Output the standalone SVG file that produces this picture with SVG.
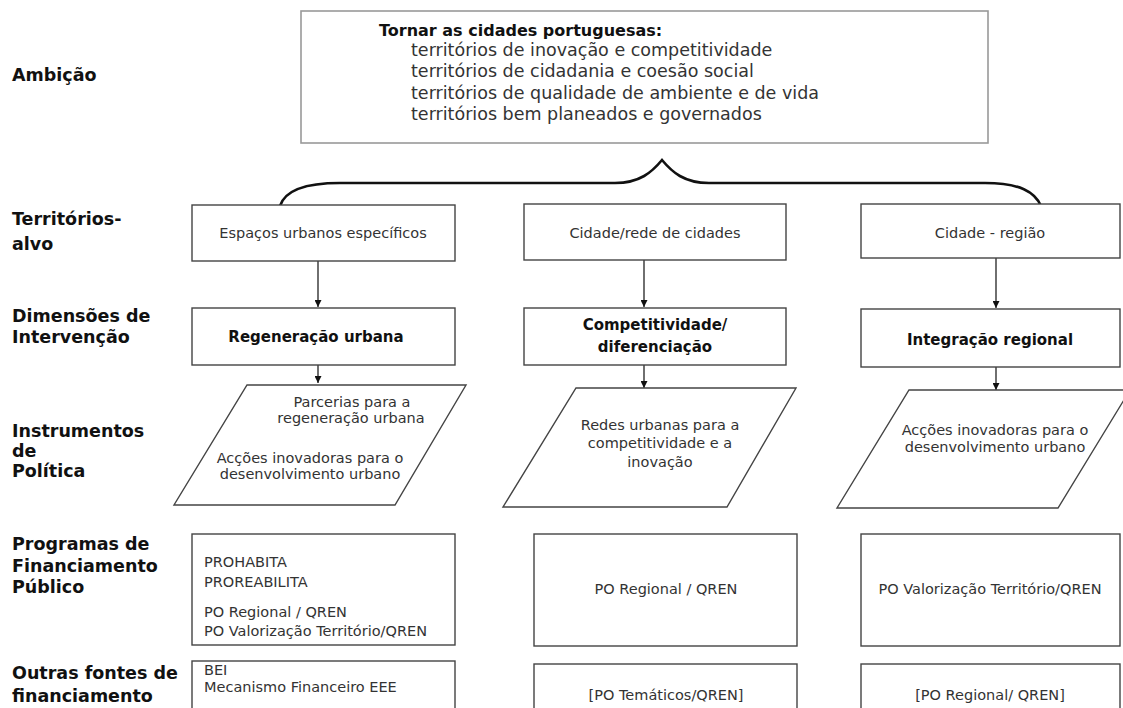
<svg xmlns="http://www.w3.org/2000/svg" width="1123" height="708" viewBox="0 0 1123 708">
<defs>
<style>
.lbl{font-family:"DejaVu Sans","Liberation Sans",sans-serif;font-weight:bold;font-size:17.5px;fill:#111}
.t{font-family:"DejaVu Sans","Liberation Sans",sans-serif;font-size:14.5px;fill:#333}
.tb{font-family:"DejaVu Sans","Liberation Sans",sans-serif;font-size:15px;font-weight:bold;fill:#111}
.amb{font-family:"DejaVu Sans","Liberation Sans",sans-serif;font-size:17.5px;fill:#333}
.box{fill:#fff;stroke:#444;stroke-width:1.4}
.top{fill:#fff;stroke:#999;stroke-width:1.6}
.arr{stroke:#222;stroke-width:1.3;fill:none;marker-end:url(#ah)}
.c{text-anchor:middle}
</style>
<marker id="ah" viewBox="0 0 10 10" refX="10" refY="5" markerWidth="7" markerHeight="7" markerUnits="userSpaceOnUse" orient="auto">
<path d="M0,0 L10,5 L0,10 z" fill="#111"/>
</marker>
</defs>
<rect width="1123" height="708" fill="#fff"/>

<g id="labels">
<text class="lbl" x="12" y="81">Ambição</text>
<text class="lbl" x="12" y="225">Territórios-</text>
<text class="lbl" x="12" y="250">alvo</text>
<text class="lbl" x="12" y="322">Dimensões de</text>
<text class="lbl" x="12" y="343">Intervenção</text>
<text class="lbl" x="12" y="437">Instrumentos</text>
<text class="lbl" x="12" y="457">de</text>
<text class="lbl" x="12" y="477">Política</text>
<text class="lbl" x="12" y="550">Programas de</text>
<text class="lbl" x="12" y="572">Financiamento</text>
<text class="lbl" x="12" y="593">Público</text>
<text class="lbl" x="12" y="679">Outras fontes de</text>
<text class="lbl" x="12" y="702">financiamento</text>
</g>

<g id="ambicao">
<rect class="top" x="301" y="11" width="687" height="132"/>
<text class="tb" style="font-size:16px" x="379" y="36">Tornar as cidades portuguesas:</text>
<text class="amb" x="411" y="56">territórios de inovação e competitividade</text>
<text class="amb" x="411" y="77">territórios de cidadania e coesão social</text>
<text class="amb" x="411" y="99">territórios de qualidade de ambiente e de vida</text>
<text class="amb" x="411" y="120">territórios bem planeados e governados</text>
</g>

<g id="connectors">
<path d="M280,206 C285,190 305,183 340,183 L615,183 C640,183 652,172 662,160 C672,172 684,183 709,183 L985,183 C1020,183 1035,192 1041,206" fill="none" stroke="#111" stroke-width="2.6"/>
<line class="arr" x1="318" y1="261" x2="318" y2="307"/>
<line class="arr" x1="644" y1="260" x2="644" y2="307"/>
<line class="arr" x1="996" y1="258" x2="996" y2="308"/>
<line class="arr" x1="318" y1="365" x2="318" y2="383"/>
<line class="arr" x1="644" y1="365" x2="644" y2="388"/>
<line class="arr" x1="996" y1="367" x2="996" y2="390"/>
</g>

<g id="t1">
<rect class="box" x="192" y="205" width="263" height="56"/>
<text class="t c" x="323" y="238">Espaços urbanos específicos</text>
</g>
<g id="t2">
<rect class="box" x="524" y="204" width="262" height="56"/>
<text class="t c" x="655" y="238">Cidade/rede de cidades</text>
</g>
<g id="t3">
<rect class="box" x="861" y="204" width="259" height="54"/>
<text class="t c" x="990" y="238">Cidade - região</text>
</g>

<g id="d1">
<rect class="box" x="192" y="308" width="263" height="57"/>
<text class="tb c" x="316" y="342">Regeneração urbana</text>
</g>
<g id="d2">
<rect class="box" x="524" y="308" width="262" height="57"/>
<text class="tb c" x="655" y="330">Competitividade/</text>
<text class="tb c" x="655" y="352">diferenciação</text>
</g>
<g id="d3">
<rect class="box" x="861" y="309" width="259" height="58"/>
<text class="tb c" x="990" y="345">Integração regional</text>
</g>

<g id="i1">
<polygon class="box" points="247,385 466,385 395,505 174,505"/>
<text class="t c" x="352" y="407">Parcerias para a</text>
<text class="t c" x="351" y="423">regeneração urbana</text>
<text class="t c" x="310" y="463">Acções inovadoras para o</text>
<text class="t c" x="310" y="479">desenvolvimento urbano</text>
</g>
<g id="i2">
<polygon class="box" points="576,388 796,388 727,507 503,507"/>
<text class="t c" x="660" y="430">Redes urbanas para a</text>
<text class="t c" x="660" y="448">competitividade e a</text>
<text class="t c" x="660" y="467">inovação</text>
</g>
<g id="i3">
<polygon class="box" points="909,390 1130,390 1058,508 837,508"/>
<text class="t c" x="995" y="435">Acções inovadoras para o</text>
<text class="t c" x="995" y="452">desenvolvimento urbano</text>
</g>

<g id="p1">
<rect class="box" x="192" y="534" width="263" height="111"/>
<text class="t" x="204" y="567">PROHABITA</text>
<text class="t" x="204" y="587">PROREABILITA</text>
<text class="t" x="204" y="617">PO Regional / QREN</text>
<text class="t" x="204" y="636">PO Valorização Território/QREN</text>
</g>
<g id="p2">
<rect class="box" x="534" y="534" width="263" height="112"/>
<text class="t c" x="666" y="594">PO Regional / QREN</text>
</g>
<g id="p3">
<rect class="box" x="861" y="534" width="259" height="112"/>
<text class="t c" x="990" y="594">PO Valorização Território/QREN</text>
</g>

<g id="o1">
<rect class="box" x="192" y="661" width="263" height="60"/>
<text class="t" x="204" y="675">BEI</text>
<text class="t" x="204" y="692">Mecanismo Financeiro EEE</text>
</g>
<g id="o2">
<rect class="box" x="534" y="664" width="263" height="60"/>
<text class="t c" x="666" y="700">[PO Temáticos/QREN]</text>
</g>
<g id="o3">
<rect class="box" x="861" y="664" width="259" height="60"/>
<text class="t c" x="990" y="700">[PO Regional/ QREN]</text>
</g>
</svg>
